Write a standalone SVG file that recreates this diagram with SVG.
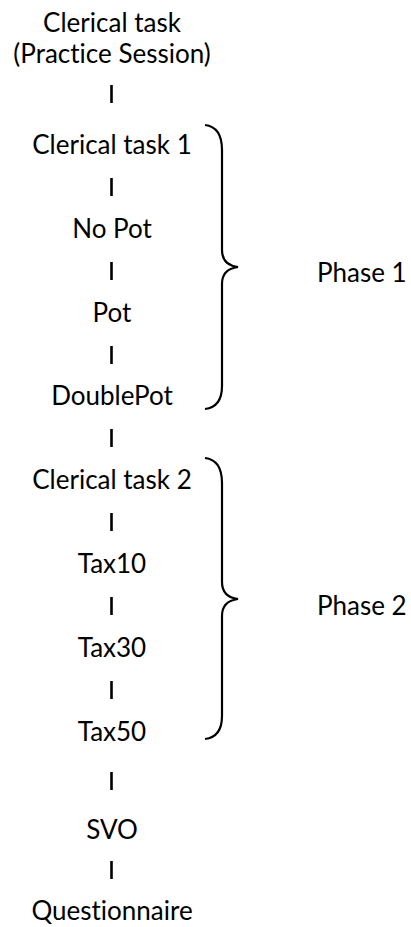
<svg xmlns="http://www.w3.org/2000/svg" width="411" height="927" viewBox="0 0 411 927">
<style>
text{font-family:Lato,"Open Sans",sans-serif;font-size:26px;fill:#000;font-variant-ligatures:none}
.n{text-anchor:middle}
.sep{stroke:#000;stroke-width:2.6}
.brace{fill:none;stroke:#000;stroke-width:2.2}
</style>
<rect width="411" height="927" fill="#fff"/>
<g id="practice"><text class="n" x="112" y="32">Clerical task</text><text class="n" x="112" y="63">(Practice Session)</text></g>
<g id="ct1"><text class="n" x="112" y="154">Clerical task 1</text></g>
<g id="nopot"><text class="n" x="112" y="238">No Pot</text></g>
<g id="pot"><text class="n" x="112" y="322">Pot</text></g>
<g id="doublepot"><text class="n" x="112" y="405">DoublePot</text></g>
<g id="ct2"><text class="n" x="112" y="489">Clerical task 2</text></g>
<g id="tax10"><text class="n" x="112" y="573">Tax10</text></g>
<g id="tax30"><text class="n" x="112" y="657">Tax30</text></g>
<g id="tax50"><text class="n" x="112" y="741">Tax50</text></g>
<g id="svo"><text class="n" x="112" y="839">SVO</text></g>
<g id="questionnaire"><text class="n" x="112" y="920">Questionnaire</text></g>
<g id="phase1"><path class="brace" d="M205,125 Q222,127 222,150 L222,250 Q222,265 238,267 Q222,269 222,284 L222,386 Q222,407 205,409"/><text x="317" y="282">Phase 1</text></g>
<g id="phase2"><path class="brace" d="M205,458 Q222,460 222,483 L222,582 Q222,597 238,599 Q222,601 222,616 L222,716 Q222,737 205,739"/><text x="317" y="615">Phase 2</text></g>
<g id="connectors">
<line class="sep" x1="111.5" y1="85" x2="111.5" y2="103"/>
<line class="sep" x1="111.5" y1="178" x2="111.5" y2="196"/>
<line class="sep" x1="111.5" y1="262" x2="111.5" y2="280"/>
<line class="sep" x1="111.5" y1="346" x2="111.5" y2="364"/>
<line class="sep" x1="111.5" y1="429" x2="111.5" y2="447"/>
<line class="sep" x1="111.5" y1="513" x2="111.5" y2="531"/>
<line class="sep" x1="111.5" y1="597" x2="111.5" y2="615"/>
<line class="sep" x1="111.5" y1="681" x2="111.5" y2="699"/>
<line class="sep" x1="111.5" y1="772" x2="111.5" y2="790"/>
<line class="sep" x1="111.5" y1="861" x2="111.5" y2="879"/>
</g>
</svg>
